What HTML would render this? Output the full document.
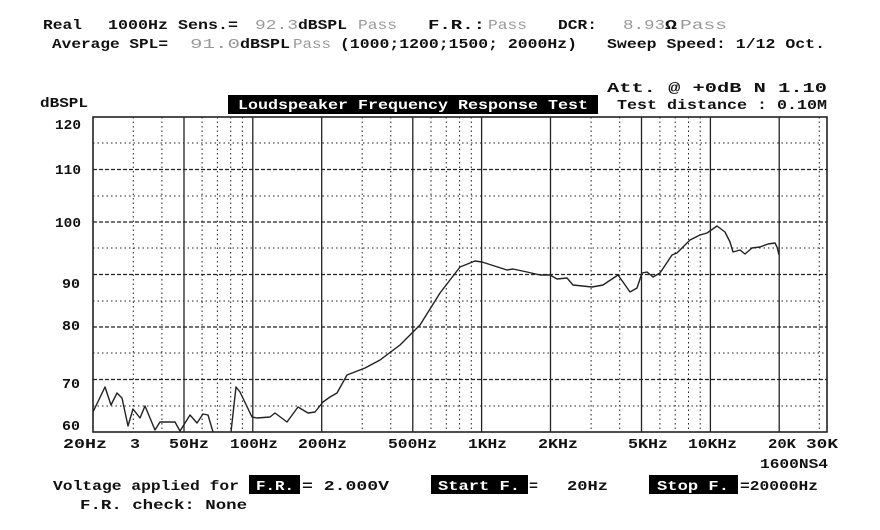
<!DOCTYPE html>
<html><head><meta charset="utf-8"><style>
html,body{margin:0;padding:0;background:#fff;}
svg{display:block}
text{font-family:"Liberation Mono",monospace;font-weight:bold;font-size:14px;fill:#111}
.g{fill:#999;font-weight:normal}
.w{fill:#fff}
</style></head><body>
<svg width="880" height="530" viewBox="0 0 880 530" xmlns="http://www.w3.org/2000/svg">
<rect width="880" height="530" fill="#fff"/>
<!-- header -->
<text x="43" y="29" textLength="39" lengthAdjust="spacingAndGlyphs">Real</text>
<text x="108" y="29" textLength="60" lengthAdjust="spacingAndGlyphs">1000Hz</text>
<text x="178" y="29" textLength="60" lengthAdjust="spacingAndGlyphs">Sens.=</text>
<text class="g" x="255" y="29" textLength="43" lengthAdjust="spacingAndGlyphs">92.3</text>
<text x="298" y="29" textLength="49" lengthAdjust="spacingAndGlyphs">dBSPL</text>
<text class="g" x="358" y="29" textLength="39" lengthAdjust="spacingAndGlyphs">Pass</text>
<text x="428" y="29" textLength="57" lengthAdjust="spacingAndGlyphs">F.R.:</text>
<text class="g" x="488" y="29" textLength="39" lengthAdjust="spacingAndGlyphs">Pass</text>
<text x="558" y="29" textLength="39" lengthAdjust="spacingAndGlyphs">DCR:</text>
<text class="g" x="623" y="29" textLength="42" lengthAdjust="spacingAndGlyphs">8.93</text>
<text x="665" y="29" textLength="12" lengthAdjust="spacingAndGlyphs">Ω</text>
<text class="g" x="680" y="29" textLength="47" lengthAdjust="spacingAndGlyphs">Pass</text>
<text x="52" y="48" textLength="116" lengthAdjust="spacingAndGlyphs">Average SPL=</text>
<text class="g" x="190" y="48" textLength="50" lengthAdjust="spacingAndGlyphs">91.0</text>
<text x="240" y="48" textLength="50" lengthAdjust="spacingAndGlyphs">dBSPL</text>
<text class="g" x="293" y="48" textLength="38" lengthAdjust="spacingAndGlyphs">Pass</text>
<text x="340" y="48" textLength="237" lengthAdjust="spacingAndGlyphs">(1000;1200;1500; 2000Hz)</text>
<text x="607" y="48" textLength="218" lengthAdjust="spacingAndGlyphs">Sweep Speed: 1/12 Oct.</text>
<text x="607" y="92" textLength="220" lengthAdjust="spacingAndGlyphs">Att. @  +0dB    N 1.10</text>
<text x="40" y="107" textLength="48" lengthAdjust="spacingAndGlyphs">dBSPL</text>
<rect x="228" y="95" width="370" height="19" fill="#000"/>
<text class="w" x="238" y="109" textLength="350" lengthAdjust="spacingAndGlyphs">Loudspeaker Frequency Response Test</text>
<text x="617" y="109" textLength="210" lengthAdjust="spacingAndGlyphs">Test distance : 0.10M</text>
<!-- y labels -->
<g>
<text x="55" y="129" textLength="26" lengthAdjust="spacingAndGlyphs">120</text>
<text x="55" y="174" textLength="26" lengthAdjust="spacingAndGlyphs">110</text>
<text x="55" y="227" textLength="26" lengthAdjust="spacingAndGlyphs">100</text>
<text x="62" y="288" textLength="18" lengthAdjust="spacingAndGlyphs">90</text>
<text x="62" y="330" textLength="18" lengthAdjust="spacingAndGlyphs">80</text>
<text x="62" y="388" textLength="18" lengthAdjust="spacingAndGlyphs">70</text>
<text x="62" y="430" textLength="18" lengthAdjust="spacingAndGlyphs">60</text>
</g>
<!-- grid -->
<g stroke="#222" fill="none">
<g stroke-width="1" stroke-dasharray="1.5 3">
<line x1="93" y1="143" x2="827" y2="143"/>
<line x1="93" y1="196" x2="827" y2="196"/>
<line x1="93" y1="248" x2="827" y2="248"/>
<line x1="93" y1="301" x2="827" y2="301"/>
<line x1="93" y1="353" x2="827" y2="353"/>
<line x1="93" y1="406" x2="827" y2="406"/>
</g>
<g stroke-width="1.3" stroke-dasharray="4 2">
<line x1="93" y1="169.5" x2="827" y2="169.5"/>
<line x1="93" y1="222" x2="827" y2="222"/>
<line x1="93" y1="274.5" x2="827" y2="274.5"/>
<line x1="93" y1="327" x2="827" y2="327"/>
<line x1="93" y1="379.5" x2="827" y2="379.5"/>
</g>
<g stroke-width="1" stroke-dasharray="1.5 3">
<line x1="133.3" y1="117" x2="133.3" y2="432"/><line x1="161.9" y1="117" x2="161.9" y2="432"/>
<line x1="202.1" y1="117" x2="202.1" y2="432"/><line x1="217.4" y1="117" x2="217.4" y2="432"/><line x1="230.7" y1="117" x2="230.7" y2="432"/><line x1="242.4" y1="117" x2="242.4" y2="432"/>
<line x1="362.2" y1="117" x2="362.2" y2="432"/><line x1="390.8" y1="117" x2="390.8" y2="432"/>
<line x1="431.0" y1="117" x2="431.0" y2="432"/><line x1="446.3" y1="117" x2="446.3" y2="432"/><line x1="459.6" y1="117" x2="459.6" y2="432"/><line x1="471.3" y1="117" x2="471.3" y2="432"/>
<line x1="591.1" y1="117" x2="591.1" y2="432"/><line x1="619.7" y1="117" x2="619.7" y2="432"/>
<line x1="659.9" y1="117" x2="659.9" y2="432"/><line x1="675.2" y1="117" x2="675.2" y2="432"/><line x1="688.5" y1="117" x2="688.5" y2="432"/><line x1="700.2" y1="117" x2="700.2" y2="432"/>
<line x1="819.3" y1="117" x2="819.3" y2="432"/>
</g>
<g stroke-width="1.3">
<line x1="184" y1="117" x2="184" y2="432"/><line x1="252.8" y1="117" x2="252.8" y2="432"/><line x1="321.7" y1="117" x2="321.7" y2="432"/>
<line x1="412.8" y1="117" x2="412.8" y2="432"/><line x1="481.6" y1="117" x2="481.6" y2="432"/><line x1="550.5" y1="117" x2="550.5" y2="432"/>
<line x1="641.5" y1="117" x2="641.5" y2="432"/><line x1="710.4" y1="117" x2="710.4" y2="432"/><line x1="779.2" y1="117" x2="779.2" y2="432"/>
</g>
<rect x="93" y="117" width="734" height="315" stroke-width="1.6"/>
</g>
<!-- curve -->
<g fill="none" stroke="#222" stroke-width="1.4" stroke-linejoin="round">
<polyline points="93,412 105,387 111,405 117,393 122,398 128,426 133,409 140,418 145,406 155,430 160,422 175,422 180,431 190,415 197,423 203,414 208,415 213,432"/>
<polyline points="231,432 236,387 240,392 252,417 257,418 270,417 275,413 287,422 298,407 308,413 315,412 323,402 330,397 337,393 347,375 365,368 380,360 400,345 420,325 440,293 460,267 475,261 482,262 507,270 513,269 527,272 540,275 550,275 557,279 567,278 573,285 592,287 603,285 618,275 623,282 630,292 637,288 642,273 647,272 653,277 660,273 672,255 677,253 690,240 700,235 707,233 717,226 725,232 730,242 733,252 740,250 745,254 752,248 760,247 768,244 775,243 777,247 779,255"/>
</g>
<!-- x labels -->
<g>
<text x="63" y="448" textLength="44" lengthAdjust="spacingAndGlyphs">20Hz</text>
<text x="130" y="448" textLength="10" lengthAdjust="spacingAndGlyphs">3</text>
<text x="169" y="448" textLength="40" lengthAdjust="spacingAndGlyphs">50Hz</text>
<text x="230" y="448" textLength="48" lengthAdjust="spacingAndGlyphs">100Hz</text>
<text x="298" y="448" textLength="49" lengthAdjust="spacingAndGlyphs">200Hz</text>
<text x="388" y="448" textLength="49" lengthAdjust="spacingAndGlyphs">500Hz</text>
<text x="468" y="448" textLength="39" lengthAdjust="spacingAndGlyphs">1KHz</text>
<text x="538" y="448" textLength="40" lengthAdjust="spacingAndGlyphs">2KHz</text>
<text x="628" y="448" textLength="40" lengthAdjust="spacingAndGlyphs">5KHz</text>
<text x="688" y="448" textLength="49" lengthAdjust="spacingAndGlyphs">10KHz</text>
<text x="768" y="448" textLength="28" lengthAdjust="spacingAndGlyphs">20K</text>
<text x="806" y="448" textLength="32" lengthAdjust="spacingAndGlyphs">30K</text>
<text x="760" y="468" textLength="68" lengthAdjust="spacingAndGlyphs">1600NS4</text>
</g>
<!-- footer -->
<text x="53" y="490" textLength="186" lengthAdjust="spacingAndGlyphs">Voltage applied for</text>
<rect x="249" y="475" width="51" height="19" fill="#000"/>
<text class="w" x="256" y="490" textLength="38" lengthAdjust="spacingAndGlyphs">F.R.</text>
<text x="302" y="490" textLength="87" lengthAdjust="spacingAndGlyphs">= 2.000V</text>
<rect x="431" y="475" width="97" height="19" fill="#000"/>
<text class="w" x="438" y="490" textLength="82" lengthAdjust="spacingAndGlyphs">Start F.</text>
<text x="529" y="490" textLength="9" lengthAdjust="spacingAndGlyphs">=</text>
<text x="567" y="490" textLength="41" lengthAdjust="spacingAndGlyphs">20Hz</text>
<rect x="649" y="475" width="89" height="19" fill="#000"/>
<text class="w" x="657" y="490" textLength="72" lengthAdjust="spacingAndGlyphs">Stop F.</text>
<text x="740" y="490" textLength="78" lengthAdjust="spacingAndGlyphs">=20000Hz</text>
<text x="80" y="509" textLength="167" lengthAdjust="spacingAndGlyphs">F.R. check:  None</text>
</svg>
</body></html>
